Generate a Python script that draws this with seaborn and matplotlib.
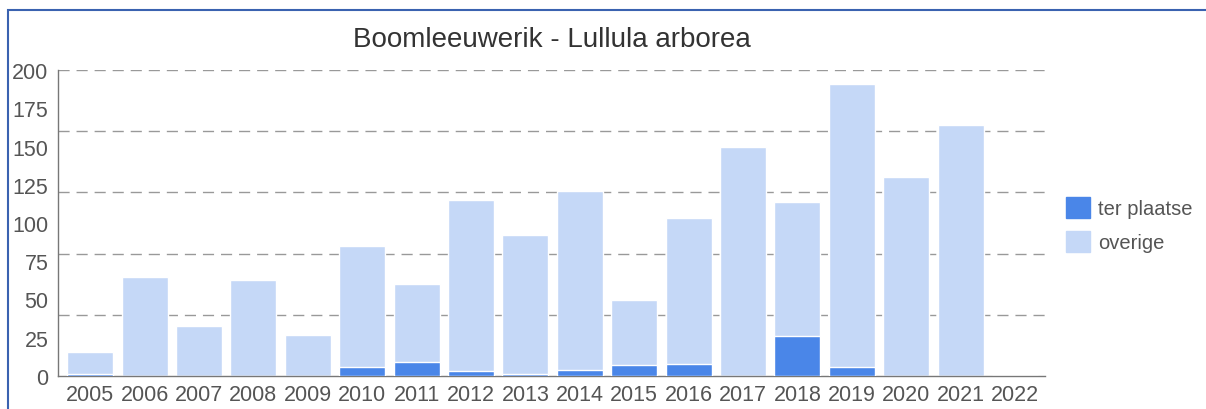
import seaborn as sns
import matplotlib.pyplot as plt
import matplotlib.patches as mpatches
import pandas as pd

# data
years = [str(y) for y in range(2005, 2023)]
ter_plaatse = [1, 0, 0, 0, 0, 6, 9, 3, 1, 4, 7, 8, 0, 26, 6, 0, 0, 0]
overige = [15, 65, 33, 63, 27, 79, 51, 112, 91, 117, 43, 95, 150, 88, 185, 130, 164, 0]

dark = '#4a86e8'
light = '#c5d8f7'
grey = '#555555'

sns.set_style('white')
plt.rcParams['font.family'] = ['Liberation Sans', 'DejaVu Sans']

df = pd.DataFrame({'jaar': years, 'ter plaatse': ter_plaatse, 'overige': overige})
df['totaal'] = df['ter plaatse'] + df['overige']

fig = plt.figure(figsize=(12.06, 4.1), dpi=100)
ax = fig.add_axes([58 / 1206, 33 / 410, 987 / 1206, 306 / 410])

# grid lines (every 40) behind the bars
for g in [40, 80, 120, 160, 200]:
    ax.axhline(g, color='#999999', linestyle=(0, (8, 5)), linewidth=1, zorder=0)

sns.barplot(data=df, x='jaar', y='totaal', color=light, width=0.845,
            saturation=1, ax=ax, zorder=2)
sns.barplot(data=df, x='jaar', y='ter plaatse', color=dark, width=0.845,
            saturation=1, ax=ax, zorder=3)

ax.set_ylim(0, 200)
ax.set_xlim(-0.59, 17.55)
ax.set_yticks(range(0, 201, 25))
ax.set_xlabel('')
ax.set_ylabel('')
ax.tick_params(axis='both', labelsize=15.5, colors=grey, length=5, width=1)
ax.tick_params(axis='x', direction='inout', length=6, pad=3)
ax.tick_params(axis='y', pad=2)
for s in ['top', 'right']:
    ax.spines[s].set_visible(False)
for s in ['left', 'bottom']:
    ax.spines[s].set_color('#777777')
    ax.spines[s].set_linewidth(1)

ax.set_title('Boomleeuwerik - Lullula arborea', fontsize=20, color='#333333', pad=17)

handles = [mpatches.Patch(color=dark, label='ter plaatse'),
           mpatches.Patch(color=light, label='overige')]
fig.legend(handles=handles, loc='upper left', bbox_to_anchor=(1048 / 1206, 1 - 180 / 410),
           frameon=False, fontsize=14.5, labelcolor=grey, handlelength=1.2,
           handleheight=1.2, handletextpad=0.4, labelspacing=0.65)

# blue frame around the chart
fig.patches.append(mpatches.Rectangle((8 / 1206, -0.1), 1.2, 1 - 11 / 410 + 0.1,
                                      transform=fig.transFigure, fill=False,
                                      edgecolor='#3a62b0', linewidth=1.5))

fig.savefig('out.png', dpi=100)
